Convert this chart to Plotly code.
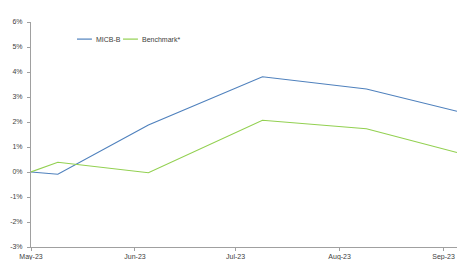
import plotly.graph_objects as go

dates = ["2023-05-01", "2023-05-09", "2023-06-05", "2023-07-09", "2023-08-09", "2023-09-05"]
micb_b = [0.0, -0.09, 1.88, 3.81, 3.32, 2.43]
benchmark = [0.0, 0.39, -0.03, 2.07, 1.73, 0.78]
x_ticks = ["2023-05-01", "2023-06-01", "2023-07-01", "2023-08-01", "2023-09-01"]
x_tick_labels = ["May-23", "Jun-23", "Jul-23", "Aug-23", "Sep-23"]
y_ticks = [-3, -2, -1, 0, 1, 2, 3, 4, 5, 6]
y_tick_labels = ["-3%", "-2%", "-1%", "0%", "1%", "2%", "3%", "4%", "5%", "6%"]
series_names = ["MICB-B", "Benchmark*"]
series_colors = ["#4F81BD", "#92D050"]

font_family = "Liberation Sans Narrow, Arial Narrow, Liberation Sans, sans-serif"
text_color = "#404040"
axis_color = "#A0A0A0"

fig = go.Figure()
for name, vals, color in zip(series_names, [micb_b, benchmark], series_colors):
    fig.add_trace(go.Scatter(x=dates, y=vals, mode="lines", name=name,
                             line=dict(color=color, width=1.2), showlegend=False))

# compact Excel-style legend (short line samples)
legend_y = 0.924
legend_items = [(0.108, 0.143, 0.148), (0.216, 0.251, 0.256)]
for (x0, x1, xt), name, color in zip(legend_items, series_names, series_colors):
    fig.add_shape(type="line", xref="paper", yref="paper", x0=x0, x1=x1,
                  y0=legend_y, y1=legend_y, line=dict(color=color, width=1.2))
    fig.add_annotation(xref="paper", yref="paper", x=xt, y=legend_y, text=name,
                       showarrow=False, xanchor="left", yanchor="middle",
                       font=dict(size=7, color=text_color, family=font_family))

fig.update_layout(
    width=457, height=260,
    margin=dict(l=31, r=0, t=22, b=13),
    paper_bgcolor="white", plot_bgcolor="white",
    font=dict(family=font_family, size=7, color=text_color),
    showlegend=False,
)
fig.update_xaxes(
    type="date", range=["2023-05-01", "2023-09-05"],
    tickvals=x_ticks, ticktext=x_tick_labels,
    showgrid=False, zeroline=False,
    showline=True, linecolor=axis_color, linewidth=1,
    ticks="outside", ticklen=3, tickcolor=axis_color,
    tickfont=dict(size=7, color=text_color),
)
fig.update_yaxes(
    range=[-3, 6], tickvals=y_ticks, ticktext=y_tick_labels,
    showgrid=False, zeroline=False,
    showline=True, linecolor=axis_color, linewidth=1,
    ticks="outside", ticklen=3, tickcolor=axis_color,
    ticklabelstandoff=3,
    tickfont=dict(size=7, color=text_color),
)

# remove the browser's default 8px page margin so the figure fills the window exactly
fig.write_html("out.html",
               config={"displayModeBar": False},
               post_script="document.body.style.margin='0';document.body.style.overflow='hidden';")
